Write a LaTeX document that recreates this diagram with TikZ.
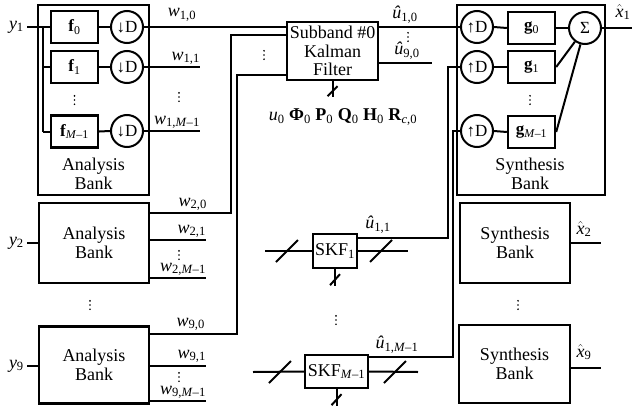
\documentclass[tikz,border=0pt]{standalone}
\usepackage{fontspec}
\setmainfont{Liberation Serif}
\newcommand\wl[1]{\textit{w}\textsubscript{#1}}
\newcommand\uh[1]{\textit{û}\textsubscript{#1}}
\newcommand\xh[1]{$\hat{\textit{x}}$\textsubscript{#1}}
\newcommand\Mm{\textit{M}–1}
\begin{document}
\begin{tikzpicture}[x=1pt,y=-1pt,
 box/.style={draw,line width=2.4pt,inner sep=0pt},
 fbx/.style={box,minimum width=47pt,minimum height=32pt,font=\fontsize{17}{17}\selectfont},
 crc/.style={draw,circle,line width=2pt,minimum size=32pt,inner sep=0pt,font=\fontsize{17}{17}\selectfont},
 ln/.style={line width=2pt},
 txt/.style={inner sep=0pt,font=\fontsize{18}{18.5}\selectfont,align=center},
 lbl/.style={inner sep=0pt,font=\fontsize{18}{18}\selectfont},
 dts/.style={inner sep=0pt,minimum width=3pt,minimum height=11pt,
   path picture={\fill (path picture bounding box.north) ++(0,-1.3pt) circle (0.95pt);
                 \fill (path picture bounding box.center) circle (0.95pt);
                 \fill (path picture bounding box.south) ++(0,1.3pt) circle (0.95pt);}}]
\useasboundingbox (0,0) rectangle (632,407);

% ---------- Analysis bank 1 ----------
\node[box,minimum width=111pt,minimum height=190pt] (A1) at (93.5,100) {};
\node[txt] (A1t) at (93.5,174) {Analysis\\Bank};
\node[fbx] (F10) at (74.5,27) {\textbf{f}\textsubscript{0}};
\node[fbx] (F11) at (74.5,67) {\textbf{f}\textsubscript{1}};
\node[fbx] (F1M) at (74.5,131.5) {\textbf{f}\textsubscript{\Mm}};
\node[dts] (A1d) at (74.5,100) {};
\node[crc] (D10) at (127,27) {↓D};
\node[crc] (D11) at (127,67) {↓D};
\node[crc] (D1M) at (127,131) {↓D};
\node[lbl,anchor=east] (y1) at (24,27) {\textit{y}\textsubscript{1}};
\coordinate (bus1) at (43,27);
\coordinate (bus2) at (43,131.5);
\draw[ln] ([xshift=3pt]y1.east) -- (F10.west);
\draw[ln] (bus1) -- (bus2);
\draw[ln] (bus1 |- F11) -- (F11.west);
\draw[ln] (bus2) -- (F1M.west);
\draw[ln] (F10.east) -- (D10.west);
\draw[ln] (F11.east) -- (D11.west);
\draw[ln] (F1M.east) -- (D1M.west);

% ---------- Kalman filter ----------
\node[box,minimum width=91pt,minimum height=58pt,txt] (K) at (332.5,51) {Subband \#0\\Kalman\\Filter};
\draw[ln] (D10.east) -- (D10.east -| K.west);
\node[lbl] (w10) at (182,15) {\wl{1,0}};
\coordinate (w11e) at (200,67);
\coordinate (w1Me) at (200,131);
\draw[ln] (D11.east) -- (w11e);
\draw[ln] (D1M.east) -- (w1Me);
\node[lbl,anchor=south east] (w11) at (200,65) {\wl{1,1}};
\node[dts] (w1d) at (179,97) {};
\node[lbl,anchor=south east] (w1M) at (200,129) {\wl{1,\Mm}};
\node[dts] (Kd) at (264,55) {};
\draw[ln] (K.south) -- ++(0,16);
\draw[ln] ([shift={(-5,15)}]K.south) -- ([shift={(5,5)}]K.south);
\node[txt] (Kp) at (343,117) {\textit{u}\textsubscript{0} \textbf{Φ}\textsubscript{0} \textbf{P}\textsubscript{0} \textbf{Q}\textsubscript{0} \textbf{H}\textsubscript{0} \textbf{R}\textsubscript{\textit{c},0}};

% ---------- Analysis bank 2 ----------
\node[box,minimum width=110pt,minimum height=80pt,txt] (A2) at (94,243) {Analysis\\Bank};
\node[lbl,anchor=east] (y2) at (24,243) {\textit{y}\textsubscript{2}};
\draw[ln] ([xshift=3pt]y2.east) -- (A2.west);
\coordinate (w20a) at (149,213);
\coordinate (w20b) at (231,213);
\coordinate (w20c) at (231,35);
\draw[ln] (w20a) -- (w20b) -- (w20c) -- (w20c -| K.west);
\node[lbl,anchor=south east] (w20) at (207,211) {\wl{2,0}};
\coordinate (w21a) at (149,240);
\coordinate (w21e) at (206,240);
\coordinate (w2Ma) at (149,278);
\coordinate (w2Me) at (206,278);
\draw[ln] (w21a) -- (w21e);
\draw[ln] (w2Ma) -- (w2Me);
\node[lbl,anchor=south east] (w21) at (206,238) {\wl{2,1}};
\node[dts] (w2d) at (179,255) {};
\node[lbl,anchor=south east] (w2M) at (206,276) {\wl{2,\Mm}};

\node[dts] (Ad) at (90,305) {};

% ---------- Analysis bank 9 ----------
\node[box,minimum width=110pt,minimum height=77pt,txt] (A9) at (94,365) {Analysis\\Bank};
\node[lbl,anchor=east] (y9) at (24,366) {\textit{y}\textsubscript{9}};
\draw[ln] ([xshift=3pt]y9.east) -- (A9.west |- y9);
\coordinate (w90a) at (149,334);
\coordinate (w90b) at (237,334);
\coordinate (w90c) at (237,75);
\draw[ln] (w90a) -- (w90b) -- (w90c) -- (w90c -| K.west);
\node[lbl,anchor=south east] (w90) at (205,331) {\wl{9,0}};
\coordinate (w91a) at (149,366);
\coordinate (w91e) at (206,366);
\coordinate (w9Ma) at (149,401);
\coordinate (w9Me) at (206,401);
\draw[ln] (w91a) -- (w91e);
\draw[ln] (w9Ma) -- (w9Me);
\node[lbl,anchor=south east] (w91) at (206,363) {\wl{9,1}};
\node[dts] (w9d) at (179,377) {};
\node[lbl,anchor=south east] (w9M) at (206,399) {\wl{9,\Mm}};

% ---------- Synthesis bank 1 ----------
\node[box,minimum width=148pt,minimum height=190pt] (S1) at (531,100) {};
\node[txt] (S1t) at (530,174) {Synthesis\\Bank};
\node[crc] (U10) at (477,27) {↑D};
\node[crc] (U11) at (477,67) {↑D};
\node[crc] (U1M) at (477,131) {↑D};
\node[fbx] (G10) at (531.5,28) {\textbf{g}\textsubscript{0}};
\node[fbx] (G11) at (531.5,67) {\textbf{g}\textsubscript{1}};
\node[fbx] (G1M) at (531.5,132) {\textbf{g}\textsubscript{\Mm}};
\node[dts] (S1d) at (530,100) {};
\node[crc] (Sig) at (585,28) {Σ};
\draw[ln] (U10.east) -- (G10.west);
\draw[ln] (U11.east) -- (G11.west);
\draw[ln] (U1M.east) -- (G1M.west);
\draw[ln] (G10.east) -- (Sig.west);
\draw[ln] (G11.east) -- (Sig);
\draw[ln] (G1M.east) -- (Sig);
\coordinate (x1e) at (632,28);
\draw[ln] (Sig.east) -- (x1e);
\node[lbl] (x1) at (623,12) {\xh{1}};

% Kalman outputs
\draw[ln] (K.east |- U10) -- (U10.west);
\node[lbl] (u10) at (405,15) {\uh{1,0}};
\node[dts] (ud) at (408,37) {};
\node[lbl] (u90) at (407,51) {\uh{9,0}};
\coordinate (u90e) at (432,63);
\draw[ln] (K.east |- u90e) -- (u90e);

% ---------- SKF 1 ----------
\node[box,minimum width=44pt,minimum height=34pt,txt] (SKF1) at (335,251) {SKF\textsubscript{1}};
\coordinate (s1l) at (265,251);
\coordinate (s1r) at (408,251);
\draw[ln] (s1l) -- (SKF1.west);
\draw[ln] (SKF1.east) -- (s1r);
\draw[ln] (276,262) -- (298,240);
\draw[ln] (370,262) -- (392,240);
\draw[ln] (SKF1.south) -- ++(0,17);
\draw[ln] ([shift={(-5,16)}]SKF1.south) -- ([shift={(5,5)}]SKF1.south);
\coordinate (u11a) at (448,238);
\draw[ln] (SKF1.east |- u11a) -- (u11a) -- (u11a |- U11) -- (U11.west);
\node[lbl] (u11) at (378,225) {\uh{1,1}};

\node[dts] (Sd) at (336,320) {};

% ---------- SKF M-1 ----------
\node[box,minimum width=63pt,minimum height=33pt,txt] (SKFM) at (336.5,371.5) {SKF\textsubscript{\Mm}};
\coordinate (sMl) at (253,372);
\coordinate (sMr) at (418,372);
\draw[ln] (sMl) -- (SKFM.west);
\draw[ln] (SKFM.east) -- (sMr);
\draw[ln] (269,383) -- (291,361);
\draw[ln] (384,383) -- (406,361);
\draw[ln] (SKFM.south) -- ++(0,17);
\draw[ln] ([shift={(-5,16)}]SKFM.south) -- ([shift={(5,5)}]SKFM.south);
\coordinate (u1Ma) at (453,357);
\draw[ln] (SKFM.east |- u1Ma) -- (u1Ma) -- (u1Ma |- U1M) -- (U1M.west);
\node[lbl] (u1M) at (397,345) {\uh{1,\Mm}};

% ---------- Synthesis banks 2 and 9 ----------
\node[box,minimum width=110pt,minimum height=80pt,txt] (S2) at (515,243) {Synthesis\\Bank};
\draw[ln] (S2.east) -- ++(30,0);
\node[lbl] (x2) at (584,229) {\xh{2}};
\node[dts] (S2d) at (518,305) {};
\node[box,minimum width=111pt,minimum height=78pt,txt] (S9) at (514.5,364) {Synthesis\\Bank};
\draw[ln] ([yshift=-4pt]S9.east) -- ++(30,0);
\node[lbl] (x9) at (584,352) {\xh{9}};
\end{tikzpicture}
\end{document}
